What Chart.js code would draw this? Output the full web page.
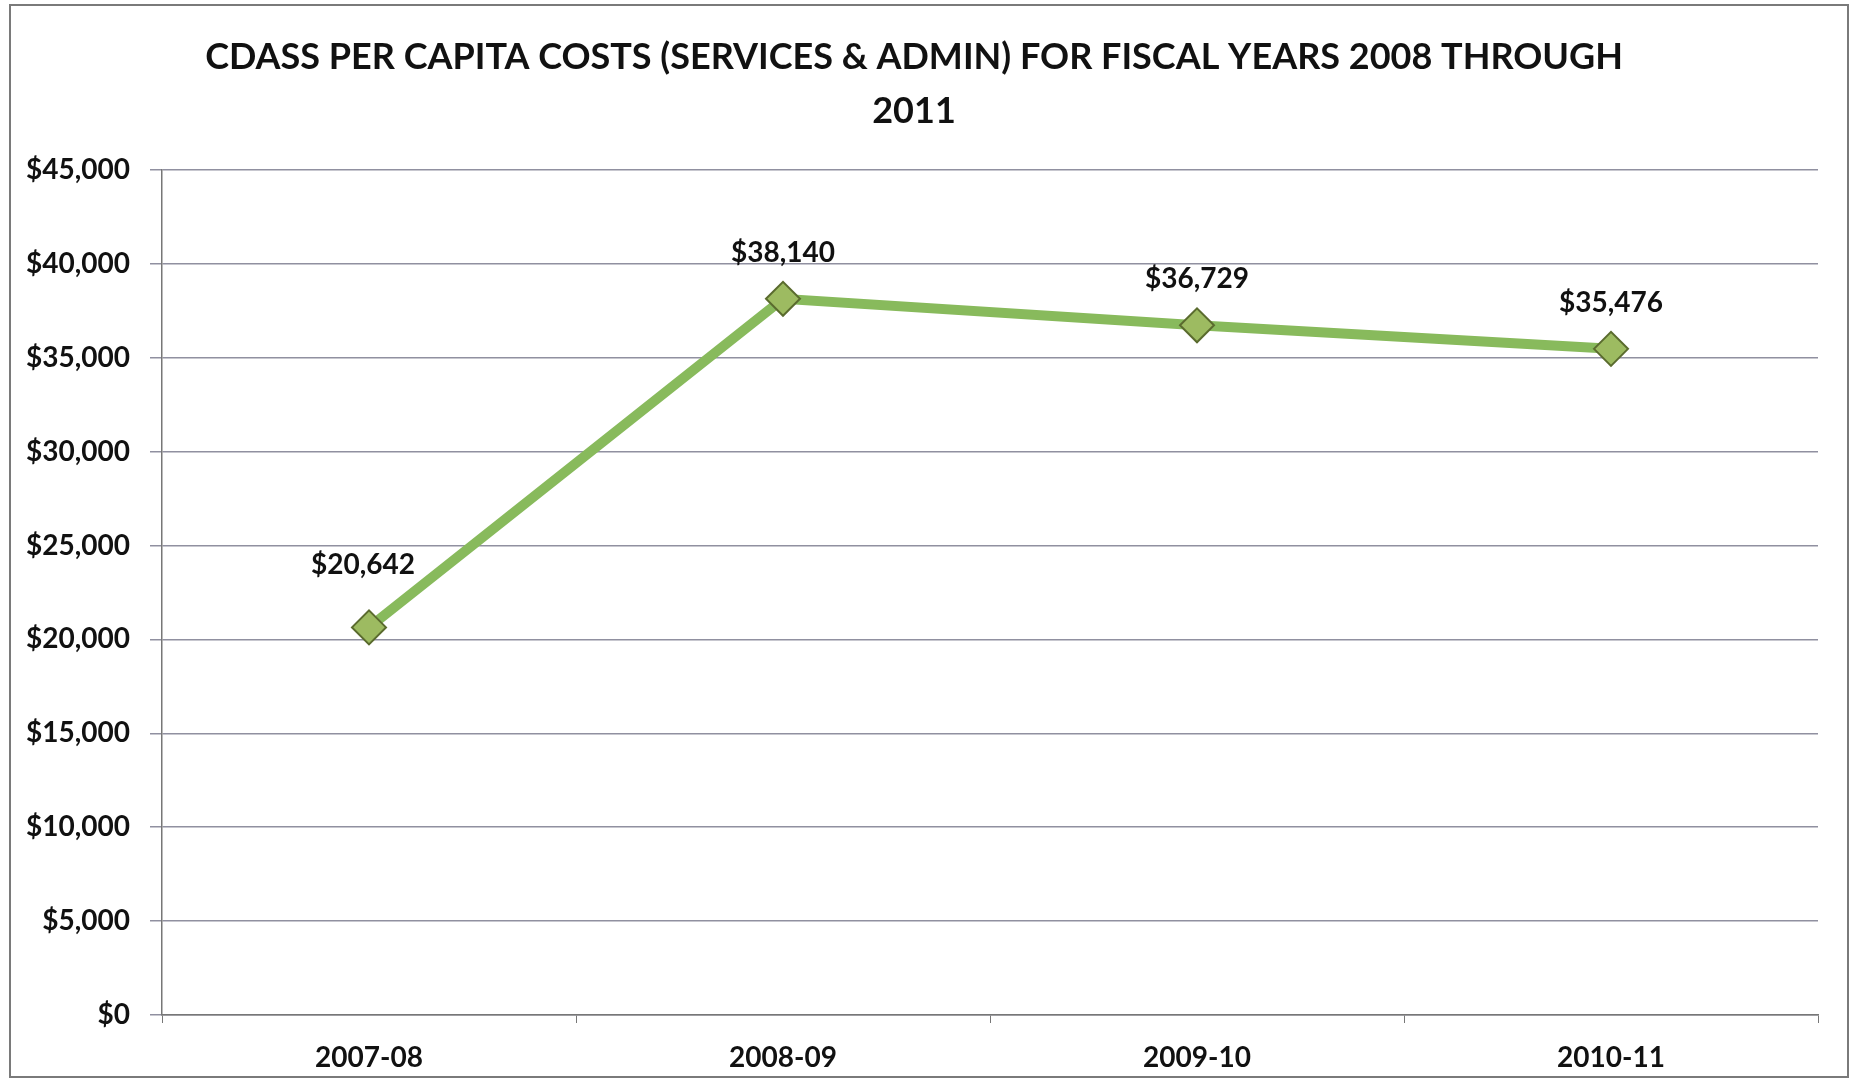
<!DOCTYPE html>
<html>
<head>
<meta charset="utf-8">
<script src="https://cdn.jsdelivr.net/npm/chart.js@4.4.1/dist/chart.umd.min.js"></script>
<style>
	html, body { margin: 0; padding: 0; background: #fff; }
	#wrap { width: 1852px; height: 1089px; }
</style>
</head>
<body>
<div id="wrap"><canvas id="costChart" width="1852" height="1089"></canvas></div>
<script>
var titleLines = ['CDASS PER CAPITA COSTS (SERVICES & ADMIN) FOR FISCAL YEARS 2008 THROUGH', '2011'];
var fiscalYears = ['2007-08', '2008-09', '2009-10', '2010-11'];
var perCapitaCost = [20642, 38140, 36729, 35476];
var yTicks = [0, 5000, 10000, 15000, 20000, 25000, 30000, 35000, 40000, 45000];

function money(v) {
	return '$' + v.toLocaleString('en-US');
}

// outer frame of the chart
var framePlugin = {
	id: 'frame',
	beforeDraw: function (chart) {
		var ctx = chart.ctx;
		ctx.save();
		ctx.fillStyle = '#fff';
		ctx.fillRect(0, 0, chart.width, chart.height);
		ctx.strokeStyle = '#7a7a7a';
		ctx.lineWidth = 2;
		ctx.strokeRect(10, 5, 1838, 1072);
		ctx.restore();
	},
};

// value labels above each point (first one sits a bit higher and left, like the original)
var valueLabels = {
	id: 'valueLabels',
	afterDatasetsDraw: function (chart) {
		var ctx = chart.ctx;
		var meta = chart.getDatasetMeta(0);
		ctx.save();
		ctx.font = 'bold 28px Lato';
		ctx.fillStyle = '#111';
		ctx.textAlign = 'center';
		ctx.textBaseline = 'middle';
		meta.data.forEach(function (pt, i) {
			var dy = i === 0 ? 62 : 46;
			var dx = i === 0 ? -6 : 0;
			ctx.fillText(money(perCapitaCost[i]), pt.x + dx, pt.y - dy);
		});
		ctx.restore();
	},
};

var costChart = new Chart(document.getElementById('costChart'), {
	type: 'line',
	data: {
		labels: fiscalYears,
		datasets: [
			{
				label: 'Per capita cost',
				data: perCapitaCost,
				borderColor: '#88ba5c',
				borderWidth: 10,
				pointStyle: 'rectRot',
				pointRadius: 17,
				pointBackgroundColor: '#9dbb61',
				pointBorderColor: '#5a6b2e',
				pointBorderWidth: 2,
				tension: 0,
			},
		],
	},
	options: {
		responsive: false,
		animation: false,
		layout: {
			padding: { top: 4, right: 34, left: 10, bottom: 0 },
		},
		plugins: {
			legend: { display: false },
			tooltip: { enabled: false },
			title: {
				display: true,
				text: titleLines,
				color: '#111',
				font: { family: 'Lato', weight: 'bold', size: 36, lineHeight: 1.5 },
				padding: { top: 26, bottom: 32 },
			},
		},
		scales: {
			x: {
				offset: true,
				grid: {
					offset: true,
					drawOnChartArea: false,
					drawTicks: true,
					tickLength: 8,
					color: '#777',
				},
				border: { color: '#777', width: 1.5 },
				ticks: {
					color: '#111',
					padding: 18,
					font: { family: 'Lato', weight: 'bold', size: 28 },
				},
				afterFit: function (scale) {
					scale.height = 74;
				},
			},
			y: {
				min: 0,
				max: 45000,
				afterBuildTicks: function (scale) {
					scale.ticks = yTicks.map(function (v) { return { value: v }; });
				},
				grid: {
					color: '#9090a0',
					lineWidth: 1.5,
					tickLength: 12,
				},
				border: { color: '#777', width: 1.5 },
				ticks: {
					color: '#111',
					padding: 20,
					font: { family: 'Lato', weight: 'bold', size: 28 },
					callback: function (v) { return money(v); },
				},
				afterFit: function (scale) {
					scale.width = 152;
				},
			},
		},
	},
	plugins: [framePlugin, valueLabels],
});
</script>
</body>
</html>
